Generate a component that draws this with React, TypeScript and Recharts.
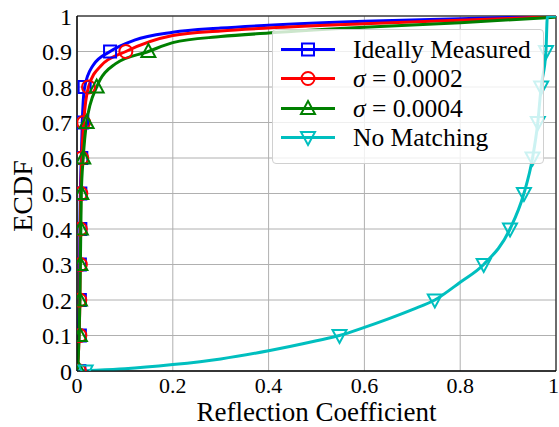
import { ComposedChart, Line, Scatter, XAxis, YAxis, CartesianGrid, ReferenceArea } from "recharts";

// ECDF curves (x = reflection coefficient, y = cumulative probability)
const idealX = [0, 0.002, 0.005, 0.006, 0.007, 0.009, 0.011, 0.016, 0.033, 0.069, 0.12, 0.2, 0.3, 0.4, 0.6, 0.8, 1];
const idealY = [0, 0.05, 0.2, 0.4, 0.5, 0.6, 0.7, 0.8, 0.86, 0.9, 0.932, 0.954, 0.966, 0.974, 0.985, 0.992, 0.999];
const s2X = [0, 0.003, 0.006, 0.007, 0.008, 0.01, 0.014, 0.024, 0.05, 0.102, 0.2, 0.3, 0.4, 0.6, 0.8, 1];
const s2Y = [0, 0.05, 0.2, 0.4, 0.5, 0.6, 0.7, 0.8, 0.86, 0.9, 0.945, 0.958, 0.966, 0.978, 0.988, 0.998];
const s4X = [0, 0.003, 0.006, 0.008, 0.009, 0.013, 0.02, 0.041, 0.08, 0.149, 0.2, 0.3, 0.4, 0.6, 0.8, 1];
const s4Y = [0, 0.05, 0.2, 0.4, 0.5, 0.6, 0.7, 0.8, 0.865, 0.9, 0.925, 0.942, 0.952, 0.968, 0.981, 0.997];
const noMatchX = [0, 0.018, 0.1, 0.2, 0.3, 0.4, 0.5, 0.548, 0.6, 0.65, 0.7, 0.747, 0.8, 0.849, 0.904, 0.933, 0.951, 0.962, 0.969, 0.979, 0.982, 1];
const noMatchY = [0, 0.001, 0.006, 0.018, 0.034, 0.057, 0.085, 0.1, 0.123, 0.147, 0.173, 0.2, 0.25, 0.3, 0.4, 0.5, 0.6, 0.7, 0.8, 0.9, 0.999, 1];

// marker positions (one per 0.1 of the ECDF)
const markerLevels = [0, 0.1, 0.2, 0.3, 0.4, 0.5, 0.6, 0.7, 0.8, 0.9];
const idealMarkX = [0.005, 0.006, 0.006, 0.006, 0.007, 0.007, 0.009, 0.011, 0.016, 0.069];
const s2MarkX = [0.005, 0.006, 0.006, 0.007, 0.007, 0.008, 0.01, 0.014, 0.024, 0.102];
const s4MarkX = [0.005, 0.006, 0.006, 0.007, 0.008, 0.009, 0.013, 0.02, 0.041, 0.149];
const noMatchMarkX = [0.018, 0.548, 0.747, 0.849, 0.904, 0.933, 0.951, 0.962, 0.969, 0.979];

const xTicks = [0, 0.2, 0.4, 0.6, 0.8, 1];
const yTicks = [0, 0.1, 0.2, 0.3, 0.4, 0.5, 0.6, 0.7, 0.8, 0.9, 1];

const toPts = (xs: number[], ys: number[]) => xs.map((x, i) => ({ x, y: ys[i] }));

type Kind = "square" | "circle" | "up" | "down";

const markerPath = (kind: Kind, cx: number, cy: number, color: string) => {
  const common = { fill: "none", stroke: color, strokeWidth: 2 };
  if (kind === "square") return <rect x={cx - 6} y={cy - 6} width={12} height={12} {...common} />;
  if (kind === "circle") return <circle cx={cx} cy={cy} r={6.5} {...common} />;
  if (kind === "up")
    return <polygon points={`${cx},${cy - 7.5} ${cx + 7},${cy + 5.5} ${cx - 7},${cy + 5.5}`} {...common} />;
  return <polygon points={`${cx},${cy + 7.5} ${cx + 7},${cy - 5.5} ${cx - 7},${cy - 5.5}`} {...common} />;
};

const shapeFor = (kind: Kind, color: string) => (props: any) =>
  <g>{markerPath(kind, props.cx, props.cy, color)}</g>;

const series = [
  { name: "Ideally Measured", color: "#0000ff", kind: "square" as Kind, line: toPts(idealX, idealY), marks: toPts(idealMarkX, markerLevels) },
  { name: "s2", color: "#ff0000", kind: "circle" as Kind, line: toPts(s2X, s2Y), marks: toPts(s2MarkX, markerLevels) },
  { name: "s4", color: "#008000", kind: "up" as Kind, line: toPts(s4X, s4Y), marks: toPts(s4MarkX, markerLevels) },
  { name: "No Matching", color: "#00bfbf", kind: "down" as Kind, line: toPts(noMatchX, noMatchY), marks: toPts(noMatchMarkX, markerLevels) },
];

const legendLabels = [
  <span>Ideally Measured</span>,
  <span><i>σ</i> = 0.0002</span>,
  <span><i>σ</i> = 0.0004</span>,
  <span>No Matching</span>,
];

const font = "Liberation Serif, DejaVu Serif, serif";

const App = () => {
  return (
    <div style={{ position: "absolute", left: 0, top: 0, width: 559, height: 427, background: "#fff", fontFamily: font }}>
      <ComposedChart width={559} height={427} margin={{ top: 16, right: 3, left: 0, bottom: 0 }} style={{ fontFamily: font }}>
        <CartesianGrid stroke="#b0b0b0" strokeWidth={1} />
        <XAxis
          type="number"
          dataKey="x"
          domain={[0, 1]}
          ticks={xTicks}
          allowDataOverflow
          height={56}
          tickLine={false}
          tickSize={0}
          tickMargin={6}
          axisLine={{ stroke: "#000" }}
          tick={{ fontSize: 22, fill: "#000", fontFamily: font }}
          label={{ value: "Reflection Coefficient", position: "insideBottom", offset: 6, fontSize: 27, fill: "#000", fontFamily: font }}
        />
        <YAxis
          type="number"
          dataKey="y"
          domain={[0, 1]}
          ticks={yTicks}
          allowDataOverflow
          width={77}
          tickLine={false}
          tickSize={0}
          tickMargin={5}
          axisLine={{ stroke: "#000" }}
          tick={{ fontSize: 24, fill: "#000", fontFamily: font }}
          label={{
            content: () => (
              <text x={32} y={196} transform="rotate(-90 32 196)" textAnchor="middle" fontSize={28} fill="#000" fontFamily={font}>
                ECDF
              </text>
            ),
          }}
        />
        <ReferenceArea x1={0} x2={1} y1={0} y2={1} fill="none" stroke="#000" strokeWidth={1} />
        {series.flatMap((s) => [
          <Line
            key={s.name + "-line"}
            data={s.line}
            dataKey="y"
            type="monotone"
            stroke={s.color}
            strokeWidth={3}
            dot={false}
            activeDot={false}
            isAnimationActive={false}
          />,
          <Scatter
            key={s.name + "-marks"}
            data={s.marks}
            dataKey="y"
            shape={shapeFor(s.kind, s.color)}
            isAnimationActive={false}
          />,
        ])}
      </ComposedChart>
      <div
        style={{
          position: "absolute",
          left: 272,
          top: 29,
          width: 270,
          height: 133,
          border: "1px solid #d0d0d0",
          borderRadius: 4,
          background: "rgba(255,255,255,0.8)",
        }}
      >
        {series.map((s, i) => (
          <div key={s.name} style={{ position: "absolute", left: 0, top: 5 + i * 29.3, height: 29, display: "flex", alignItems: "center" }}>
            <svg width={64} height={29} style={{ marginLeft: 6 }}>
              <line x1={2} y1={14.5} x2={56} y2={14.5} stroke={s.color} strokeWidth={3} />
              {markerPath(s.kind, 29, 14.5, s.color)}
            </svg>
            <span style={{ fontSize: 25.5, color: "#000", marginLeft: 10, whiteSpace: "nowrap", lineHeight: "29px" }}>{legendLabels[i]}</span>
          </div>
        ))}
      </div>
    </div>
  );
};

export default App;
